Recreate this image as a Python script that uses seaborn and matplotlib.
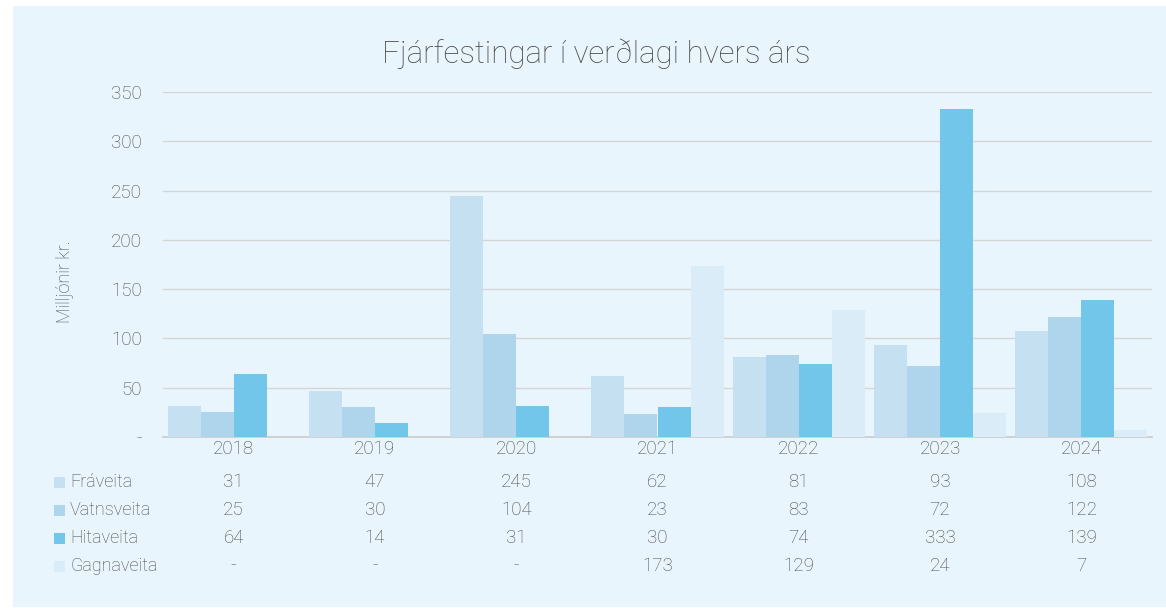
import numpy as np
import pandas as pd
import matplotlib
matplotlib.use("Agg")
import matplotlib.pyplot as plt
import matplotlib.transforms as mtransforms
from matplotlib.patches import Rectangle
from matplotlib.ticker import FuncFormatter
import seaborn as sns

# gögn
years = ["2018", "2019", "2020", "2021", "2022", "2023", "2024"]
series = ["Fráveita", "Vatnsveita", "Hitaveita", "Gagnaveita"]
fraveita = [31, 47, 245, 62, 81, 93, 108]
vatnsveita = [25, 30, 104, 23, 83, 72, 122]
hitaveita = [64, 14, 31, 30, 74, 333, 139]
gagnaveita = [np.nan, np.nan, np.nan, 173, 129, 24, 7]
colors = ["#c5e1f1", "#afd5ec", "#72c6ea", "#d9ecf7"]

sns.set_theme(style="white")
plt.rcParams["font.family"] = ["Roboto", "DejaVu Sans"]
txt = "#4a4a4a"
bg = "#e9f5fc"

rows = []
for name, vals in zip(series, [fraveita, vatnsveita, hitaveita, gagnaveita]):
    for y, v in zip(years, vals):
        rows.append({"ar": y, "flokkur": name, "gildi": v})
df = pd.DataFrame(rows)

fig = plt.figure(figsize=(11.66, 6.08), dpi=100)
fig.patch.set_facecolor("white")
fig.patches.append(Rectangle((13 / 1166, 1 - 607 / 608), 1153 / 1166, 601 / 608,
                             transform=fig.transFigure, facecolor=bg,
                             edgecolor="none", zorder=-10))

ax = fig.add_axes([163 / 1166, 1 - 437 / 608, 989 / 1166, 345 / 608])
ax.set_facecolor("none")
sns.barplot(data=df, x="ar", y="gildi", hue="flokkur", order=years,
            hue_order=series, palette=colors, width=0.935, gap=0,
            saturation=1, legend=False, ax=ax, zorder=3, linewidth=0)

ax.set_ylim(0, 350)
ax.set_xlim(-0.5, 6.5)
ax.set_yticks(range(0, 351, 50))
ax.yaxis.set_major_formatter(FuncFormatter(lambda v, p: "-" if v == 0 else f"{int(v)}"))
ax.grid(axis="y", color="#d5d5d5", linewidth=1, zorder=0)
for s in ["top", "right", "left"]:
    ax.spines[s].set_visible(False)
ax.spines["bottom"].set_color("#cccccc")
ax.tick_params(axis="both", length=0, labelsize=13.5, labelcolor=txt)
ax.tick_params(axis="y", pad=15)
ax.tick_params(axis="x", pad=2)
for lbl in ax.get_xticklabels() + ax.get_yticklabels():
    lbl.set_fontweight("light")
ax.set_xlabel("")
ax.set_ylabel("")

fig.text(596 / 1166, 1 - 54 / 608, "Fjárfestingar í verðlagi hvers árs",
         ha="center", va="center", fontsize=22.5, color=txt, fontweight="light")
fig.text(65 / 1166, 1 - 282 / 608, "Milljónir kr.", rotation=90,
         ha="center", va="center", fontsize=13, color=txt, fontweight="light")

# gagnatafla
trans = mtransforms.blended_transform_factory(ax.transData, fig.transFigure)
row_y = [482, 510, 538, 566]
for name, vals, col, yy in zip(series, [fraveita, vatnsveita, hitaveita, gagnaveita], colors, row_y):
    fy = 1 - yy / 608
    fig.patches.append(Rectangle((54 / 1166, fy - 5.5 / 608), 11 / 1166, 11 / 608,
                                 transform=fig.transFigure, facecolor=col,
                                 edgecolor="none"))
    fig.text(70 / 1166, fy, name, ha="left", va="center", fontsize=13,
             color=txt, fontweight="light")
    for i, v in enumerate(vals):
        s = "-" if np.isnan(v) else f"{int(v)}"
        ax.text(i, fy, s, transform=trans, ha="center", va="center",
                fontsize=13.5, color=txt, fontweight="light")

fig.savefig("out.png", dpi=100, facecolor=fig.get_facecolor())
